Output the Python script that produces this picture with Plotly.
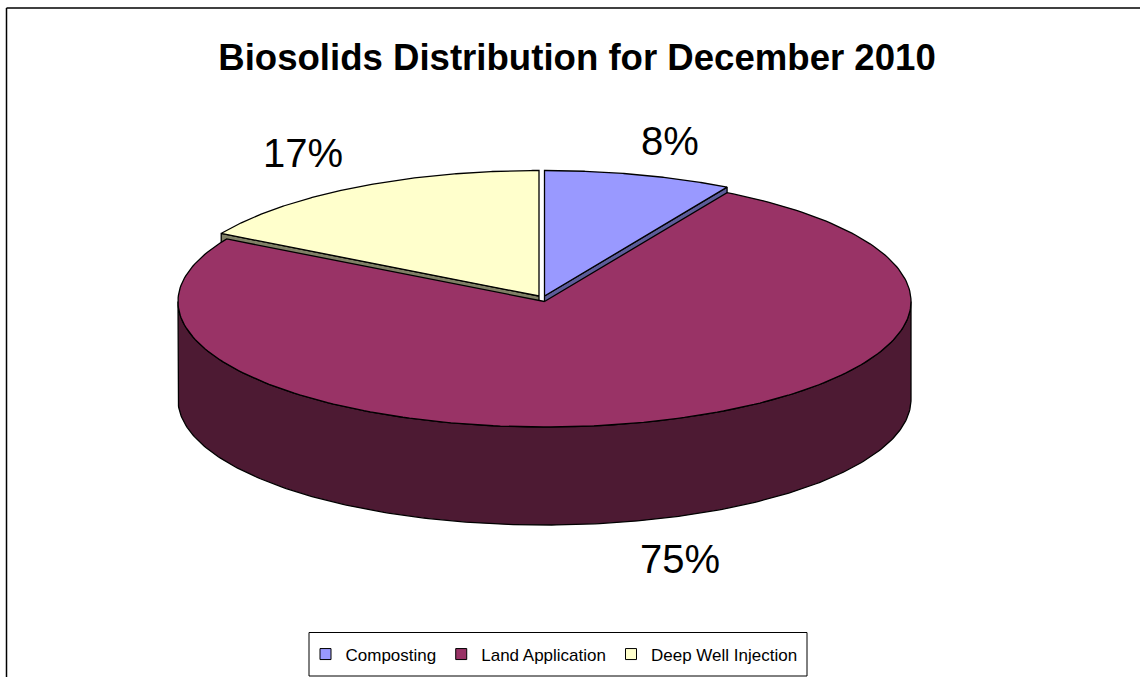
import numpy as np
import plotly.graph_objects as go

categories = ["Composting", "Land Application", "Deep Well Injection"]
shares = [8.3, 75.0, 16.7]
top_colors = ["#9999FF", "#993366", "#FFFFCC"]
side_colors = ["#5C5C99", "#4D1A33", "#808066"]
title_text = "Biosolids Distribution for December 2010"

RX, RY, DEPTH = 366.5, 125.5, 98
centers = [(544.5, 296), (544.5, 301.5), (539, 296)]
label_pos = [(670, 141), (680, 559), (303, 153)]


def rim(c, a0, a1, n=240):
    t = np.radians(np.linspace(a0, a1, n))
    return c[0] + RX * np.sin(t), c[1] - RY * np.cos(t)


edges = np.concatenate([[0], np.cumsum(shares)]) / sum(shares) * 360
fig = go.Figure()
line = dict(color="#000000", width=1.3)


def poly(x, y, color):
    fig.add_trace(go.Scatter(x=list(x), y=list(y), mode="lines", fill="toself", showlegend=False,
                             fillcolor=color, line=line, hoverinfo="skip"))


# back slices first, the large slice sits in front of them
for i in (0, 2):
    c = centers[i]
    a = edges[i + 1] if i == 0 else edges[i]
    rx, ry = rim(c, a, a, 1)
    poly([c[0], rx[0], rx[0], c[0], c[0]],
         [c[1], ry[0], ry[0] + DEPTH, c[1] + DEPTH, c[1]], side_colors[i])
    wx, wy = rim(c, edges[i], edges[i + 1])
    poly(np.r_[c[0], wx, c[0]], np.r_[c[1], wy, c[1]], top_colors[i])

c = centers[1]
# outer wall of the large slice: only the front half of the rim shows
wx, wy = rim(c, 90, 270)
poly(np.r_[wx, wx[::-1], wx[0]], np.r_[wy, wy[::-1] + DEPTH, wy[0]], side_colors[1])
wx, wy = rim(c, edges[1], edges[2])
poly(np.r_[c[0], wx, c[0]], np.r_[c[1], wy, c[1]], top_colors[1])

# legend entries with square swatches
for name, color in zip(categories, top_colors):
    fig.add_trace(go.Scatter(x=[None], y=[None], mode="markers", name=name,
                             marker=dict(symbol="square", size=11, color=color,
                                         line=dict(color="#000000", width=1))))

annotations = [dict(x=p[0], y=p[1], text=f"{round(s)}%", showarrow=False, xref="x", yref="y",
                    font=dict(size=40, color="#000000"))
               for p, s in zip(label_pos, shares)]

frame = dict(color="#000000", width=1.5)
fig.update_layout(
    width=1140, height=677, autosize=False,
    margin=dict(l=0, r=0, t=0, b=0),
    paper_bgcolor="#FFFFFF", plot_bgcolor="#FFFFFF",
    font=dict(family="Liberation Sans, Arial, sans-serif", color="#000000"),
    title=dict(text=f"<b>{title_text}</b>", x=577 / 1140, xanchor="center", y=1 - 57 / 677, yanchor="middle",
               font=dict(size=36.6, color="#000000")),
    xaxis=dict(range=[0, 1140], visible=False, fixedrange=True),
    yaxis=dict(range=[677, 0], visible=False, fixedrange=True),
    annotations=annotations,
    legend=dict(orientation="h", x=554 / 1140, xanchor="center", y=1 - 654.5 / 677, yanchor="middle",
                bgcolor="rgba(0,0,0,0)", borderwidth=0,
                font=dict(size=17, color="#000000"), itemwidth=30),
    shapes=[dict(type="line", xref="x", yref="y", x0=6.5, x1=6.5, y0=8, y1=677, line=frame),
            dict(type="line", xref="x", yref="y", x0=6.5, x1=1140, y0=8, y1=8, line=frame),
            dict(type="rect", xref="x", yref="y", x0=309, x1=807, y0=632.5, y1=676,
                 line=dict(color="#000000", width=1), fillcolor="#FFFFFF")],
)
fig.write_html("out.html", config=dict(displayModeBar=False),
               post_script="document.body.style.margin='0';")
